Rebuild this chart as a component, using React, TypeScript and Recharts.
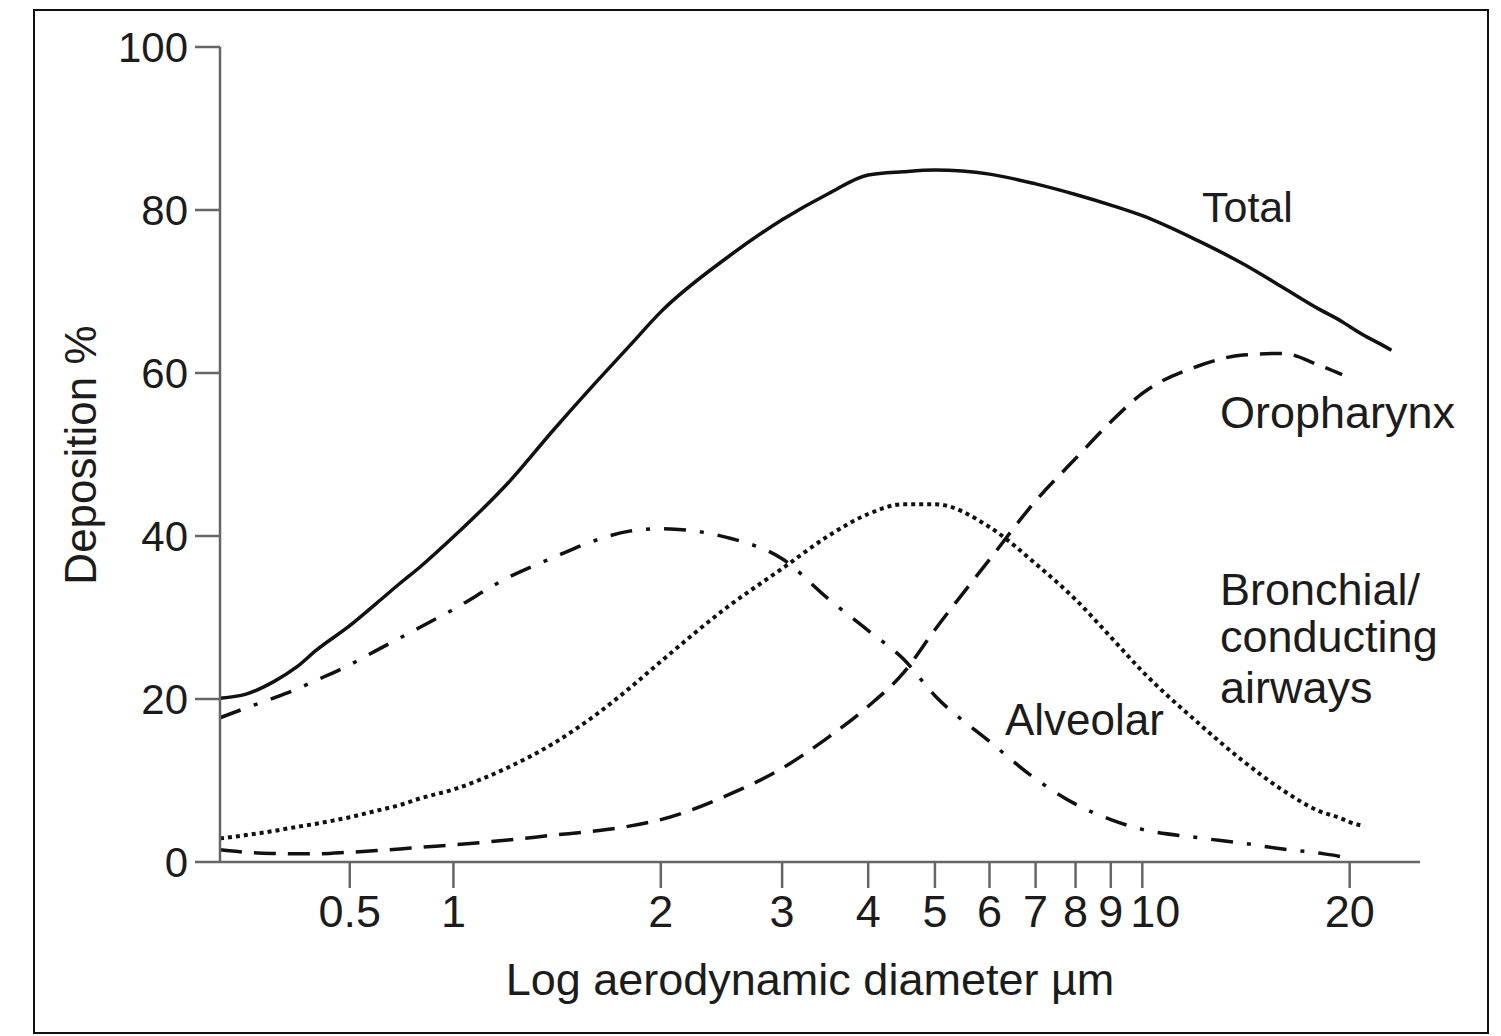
import { LineChart, Line, XAxis, YAxis } from "recharts";

// particle diameter (µm) at which each curve was read
const diameters = [0.21, 0.25, 0.3, 0.35, 0.4, 0.5, 0.6, 0.7, 0.8, 1, 1.2, 1.4, 1.6, 1.8, 2, 2.5, 3, 3.5, 4, 4.5, 5, 6, 7, 8, 9, 10, 12, 14, 16, 18, 19.5, 20, 21, 22, 23];
const total = [20.1, 20.6, 22.1, 23.9, 26.0, 29.0, 31.8, 34.2, 36.2, 39.9, 46.5, 53.1, 58.6, 63.3, 67.5, 74.2, 78.8, 82.0, 84.3, 84.7, 84.9, 84.4, 83.2, 81.9, 80.6, 79.3, 76.3, 73.4, 70.5, 67.9, 66.3, 65.7, 64.6, 63.7, 62.8];
const alveolar = [17.7, 18.9, 20.1, 21.2, 22.3, 24.2, 26.0, 27.5, 28.8, 31.0, 34.9, 37.4, 39.4, 40.6, 40.9, 39.8, 37.2, 32.3, 28.4, 24.9, 20.4, 14.8, 10.2, 7.1, 5.2, 4.0, 3.0, 2.3, 1.6, 1.1, 0.6, 0.3, null, null, null];
const bronchial = [2.9, 3.3, 3.8, 4.3, 4.7, 5.5, 6.3, 7.0, 7.8, 8.9, 11.6, 14.6, 17.9, 21.3, 24.6, 31.3, 36.0, 40.0, 42.7, 43.9, 43.9, 41.1, 36.6, 32.2, 27.6, 23.4, 17.2, 12.4, 8.8, 6.3, 5.3, 4.9, 4.4, null, null];
const oropharynx = [1.5, 1.2, 1.05, 1.0, 1.0, 1.2, 1.4, 1.6, 1.8, 2.1, 2.7, 3.3, 3.8, 4.4, 5.2, 8.2, 11.5, 15.3, 19.1, 23.2, 28.5, 37.1, 44.3, 49.5, 54.0, 57.5, 60.8, 62.2, 62.4, 61.0, 59.8, null, null, null, null];

const xTicks = [0.5, 1, 2, 3, 4, 5, 6, 7, 8, 9, 10, 20];
const yTicks = [0, 20, 40, 60, 80, 100];

// the printed axis is logarithmic above 1 µm and squeezed below it
const toAxis = (d: number) => (d >= 1 ? Math.log10(d) : 0.5 * Math.log10(d));
const fromAxis = (p: number) => (p >= 0 ? 10 ** p : 10 ** (2 * p));

const data = diameters.map((d, i) => ({
  x: toAxis(d),
  total: total[i],
  alveolar: alveolar[i],
  bronchial: bronchial[i],
  oropharynx: oropharynx[i],
}));

const W = 1452;
const H = 1021;
const font = "'Liberation Sans', Arial, sans-serif";
const ink = "#1c1c1c";
const axisGrey = "#666";

const diameterLabel = (v: number) => String(Math.round(fromAxis(v) * 10) / 10);

// "9" and "10" sit almost on top of each other, the print nudges "10" right
function XTick(props: any) {
  const { x, y, payload } = props;
  const label = diameterLabel(payload.value);
  const dx = label === "10" ? 13 : 0;
  return (
    <text x={x + dx} y={y} dy="0.71em" textAnchor="middle" fontSize={45} fill={ink} fontFamily={font}>
      {label}
    </text>
  );
}

export default function App() {
  return (
    <div
      style={{
        position: "absolute",
        left: 33,
        top: 9,
        width: W,
        height: H,
        border: "2px solid #111",
        background: "#fff",
        fontFamily: font,
      }}
    >
      <LineChart width={W} height={H} data={data} margin={{ top: 36, right: 67, left: 0, bottom: 0 }}>
        <XAxis
          dataKey="x"
          type="number"
          domain={[toAxis(0.21), toAxis(25.3)]}
          ticks={xTicks.map(toAxis)}
          interval={0}
          tickFormatter={diameterLabel}
          height={170}
          tickSize={26}
          tickMargin={7}
          axisLine={{ stroke: axisGrey, strokeWidth: 2.5 }}
          tickLine={{ stroke: axisGrey, strokeWidth: 2.5 }}
          tick={<XTick />}
        />
        <YAxis
          type="number"
          domain={[0, 100]}
          ticks={yTicks}
          interval={0}
          width={185}
          tickSize={25}
          tickMargin={7}
          axisLine={{ stroke: axisGrey, strokeWidth: 2.5 }}
          tickLine={{ stroke: axisGrey, strokeWidth: 2.5 }}
          tick={{ fontSize: 42, fill: ink, fontFamily: font }}
        />
        <Line type="monotone" dataKey="total" stroke="#111" strokeWidth={3.5} dot={false} activeDot={false} isAnimationActive={false} />
        <Line type="monotone" dataKey="alveolar" stroke="#111" strokeWidth={3.5} strokeDasharray="22 14 4 14" dot={false} activeDot={false} isAnimationActive={false} />
        <Line type="monotone" dataKey="bronchial" stroke="#111" strokeWidth={4} strokeDasharray="4 4" dot={false} activeDot={false} isAnimationActive={false} />
        <Line type="monotone" dataKey="oropharynx" stroke="#111" strokeWidth={3.5} strokeDasharray="22 12" dot={false} activeDot={false} isAnimationActive={false} />
      </LineChart>
      <svg width={W} height={H} style={{ position: "absolute", left: 0, top: 0, pointerEvents: "none" }}>
        <g fill={ink} fontFamily={font}>
          <text x={1167} y={211} fontSize={43}>Total</text>
          <text x={1185} y={417} fontSize={45}>Oropharynx</text>
          <text x={1185} y={594} fontSize={45}>
            <tspan x={1185}>Bronchial/</tspan>
            <tspan x={1185} dy={47}>conducting</tspan>
            <tspan x={1185} dy={51}>airways</tspan>
          </text>
          <text x={970} y={724} fontSize={44}>Alveolar</text>
          <text x={775} y={984} fontSize={45} textAnchor="middle">Log aerodynamic diameter µm</text>
          <text x={61} y={444} fontSize={44} textAnchor="middle" transform="rotate(-90 61 444)">Deposition %</text>
        </g>
      </svg>
    </div>
  );
}
